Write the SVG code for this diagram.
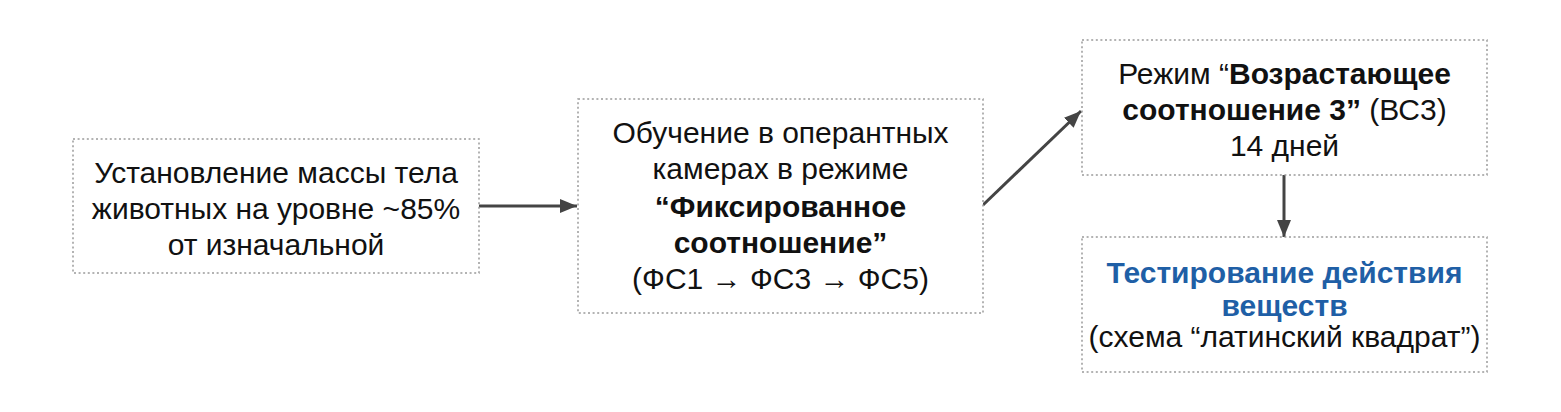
<svg xmlns="http://www.w3.org/2000/svg" width="1561" height="412" viewBox="0 0 1561 412">
<style>
.box{fill:#ffffff;stroke:#9a9a9a;stroke-width:1.5;stroke-dasharray:2 2.6}
.t{font-family:"Liberation Sans",Arial,sans-serif;font-size:30px;fill:#111;text-anchor:middle}
.b{font-weight:bold}
.blue{fill:#1f5fa6;font-weight:bold}
.c{stroke:#444;stroke-width:3;fill:none}
</style>
<defs>
<marker id="ah" markerUnits="userSpaceOnUse" markerWidth="18" markerHeight="16" refX="17" refY="7" orient="auto" viewBox="0 0 18 14">
<path d="M0,0 L17,7 L0,14 z" fill="#444"/>
</marker>
</defs>
<rect width="1561" height="412" fill="#ffffff"/>
<g id="connectors">
<line class="c" x1="479" y1="206" x2="577" y2="206" marker-end="url(#ah)"/>
<line class="c" x1="983" y1="205" x2="1081" y2="111" marker-end="url(#ah)"/>
<line class="c" x1="1284" y1="175" x2="1284" y2="237" marker-end="url(#ah)"/>
</g>
<g id="node1">
<rect class="box" x="73" y="139" width="406" height="134"/>
<text class="t" x="276" y="183">Установление массы тела</text>
<text class="t" x="276" y="219">животных на уровне ~85%</text>
<text class="t" x="276" y="255">от изначальной</text>
</g>
<g id="node2">
<rect class="box" x="578" y="99" width="405" height="214"/>
<text class="t" x="780.5" y="143">Обучение в оперантных</text>
<text class="t" x="780.5" y="179">камерах в режиме</text>
<text class="t b" x="780.5" y="217">“Фиксированное</text>
<text class="t b" x="780.5" y="253">соотношение”</text>
<text class="t" x="780.5" y="289">(ФС1 → ФС3 → ФС5)</text>
</g>
<g id="node3">
<rect class="box" x="1082" y="40" width="405" height="135"/>
<text class="t" x="1284.5" y="84">Режим “<tspan class="b">Возрастающее</tspan></text>
<text class="t" x="1284.5" y="120"><tspan class="b">соотношение 3”</tspan> (ВС3)</text>
<text class="t" x="1284.5" y="156">14 дней</text>
</g>
<g id="node4">
<rect class="box" x="1082" y="237" width="405" height="135"/>
<text class="t blue" x="1284.5" y="283">Тестирование действия</text>
<text class="t blue" x="1284.5" y="316">веществ</text>
<text class="t" x="1284.5" y="347">(схема “латинский квадрат”)</text>
</g>
</svg>
